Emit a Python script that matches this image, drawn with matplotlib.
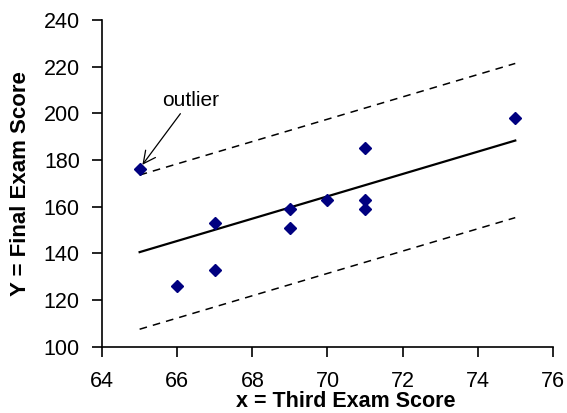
import numpy as np
import matplotlib
matplotlib.use("Agg")
import matplotlib.pyplot as plt

plt.rcParams['font.family'] = ['Liberation Sans', 'DejaVu Sans']

# 第三次考试成绩与期末成绩
third_exam = [65, 67, 71, 71, 66, 75, 67, 70, 71, 69, 69]
final_exam = [176, 133, 185, 163, 126, 198, 153, 163, 159, 151, 159]
band = 33          # 虚线与回归线的距离 (约 2s)
x_ticks = [64, 66, 68, 70, 72, 74, 76]
y_ticks = [100, 120, 140, 160, 180, 200, 220, 240]

x = np.array(third_exam, dtype=float)
y = np.array(final_exam, dtype=float)
slope, intercept = np.polyfit(x, y, 1)
xs = np.array([x.min(), x.max()])
yhat = intercept + slope * xs

fig = plt.figure(figsize=(5.67, 4.13), dpi=100)
ax = fig.add_axes([0.18, 0.16, 0.795, 0.792])

ax.plot(xs, yhat, color='black', lw=1.6, zorder=2)
ax.plot(xs, yhat + band, color='black', lw=1.1, dashes=(5, 4), zorder=2)
ax.plot(xs, yhat - band, color='black', lw=1.1, dashes=(5, 4), zorder=2)
ax.plot(x, y, 'D', color='#000080', markersize=6.5, ls='none', zorder=3)

# 离群点标注
ax.annotate('outlier', xy=(65.03, 177), xytext=(66.35, 201.5),
            fontsize=15, ha='center', va='bottom',
            arrowprops=dict(arrowstyle='->', color='black', lw=0.9,
                            shrinkA=1, shrinkB=2, mutation_scale=22))

ax.set_xlim(64, 76)
ax.set_ylim(100, 240)
ax.set_xticks(x_ticks)
ax.set_yticks(y_ticks)
ax.tick_params(labelsize=15.5, direction='out', length=7, width=1.2, pad=9)
ax.tick_params(axis='x', pad=10)
for s in ['top', 'right']:
    ax.spines[s].set_visible(False)
for s in ['left', 'bottom']:
    ax.spines[s].set_linewidth(1.2)

ax.set_xlabel('x = Third Exam Score', fontsize=15.5, fontweight='bold')
ax.xaxis.set_label_coords(0.54, -0.135)
ax.set_ylabel('Y = Final Exam Score', fontsize=16, fontweight='bold')
ax.yaxis.set_label_coords(-0.158, 0.5)

fig.savefig('out.png', dpi=100)
